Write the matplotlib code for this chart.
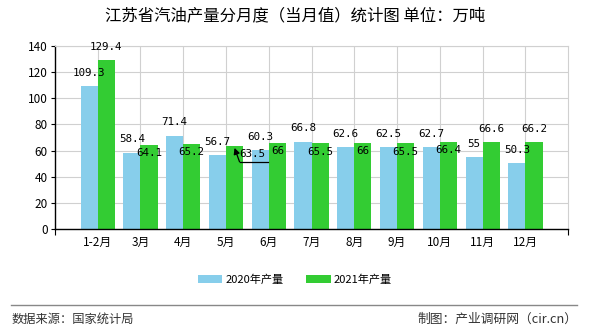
import matplotlib.pyplot as plt
import matplotlib.transforms as mtransforms
import numpy as np

plt.rcParams['font.family'] = ['Noto Sans CJK SC', 'DejaVu Sans']

# Data
months = ['1-2月', '3月', '4月', '5月', '6月', '7月', '8月', '9月', '10月', '11月', '12月']
output_2020 = [109.3, 58.4, 71.4, 56.7, 60.3, 66.8, 62.6, 62.5, 62.7, 55, 50.3]
output_2021 = [129.4, 64.1, 65.2, 63.5, 66, 65.5, 66, 65.5, 66.4, 66.6, 66.2]
# 2021 labels go above the bar only where they don't collide with the 2020 label
above_2021 = [True, False, False, False, False, False, False, False, False, True, True]

blue = '#87CEEB'
green = '#33CC33'

fig = plt.figure(figsize=(5.9, 3.3), dpi=100)
ax = fig.add_axes([0.093, 0.306, 0.870, 0.555])

x = np.arange(1, len(months) + 1)
w = 0.4
ax.bar(x - w / 2, output_2020, w, color=blue, label='2020年产量', zorder=2)
ax.bar(x + w / 2, output_2021, w, color=green, label='2021年产量', zorder=2)

mono = dict(family='DejaVu Sans Mono', fontsize=7.8)
for xi, v in zip(x, output_2020):
    ax.annotate(f'{v:g}', (xi - w / 2, v), xytext=(0, 9.5), textcoords='offset points',
                ha='center', va='center', zorder=3, **mono)
for i, (xi, v) in enumerate(zip(x, output_2021)):
    if above_2021[i]:
        ax.annotate(f'{v:g}', (xi + w / 2, v), xytext=(0, 9.5), textcoords='offset points',
                    ha='center', va='center', zorder=3, **mono)
    elif months[i] == '5月':
        # label pushed to the right, with a leader line back to the bar top
        tip = (xi + w / 2, v - 1.5)
        ax.annotate(f'{v:g}', tip, xytext=(13, -4.5), textcoords='offset points',
                    ha='center', va='center', zorder=3, **mono)
        ax.annotate('', tip, xytext=(3.6, -10), textcoords='offset points', zorder=3,
                    arrowprops=dict(arrowstyle='-|>', color='black', lw=0.9,
                                    mutation_scale=9, shrinkA=0, shrinkB=0))
        under = mtransforms.offset_copy(ax.transData, fig=fig, x=0, y=-10, units='points')
        ax.plot([tip[0] + 0.12, tip[0] + 0.78], [tip[1], tip[1]], color='black', lw=0.9,
                transform=under, zorder=3)
    else:
        ax.annotate(f'{v:g}', (xi + w / 2, v), xytext=(0, -6), textcoords='offset points',
                    ha='center', va='center', zorder=3, **mono)

# Axes
ax.set_xlim(0, 12)
ax.set_ylim(0, 140)
ax.set_yticks(np.arange(0, 141, 20))
ax.set_xticks([0, 12])
ax.set_xticklabels([])
ax.set_xticks(x, minor=True)
ax.set_xticklabels(months, minor=True)
ax.tick_params(axis='x', which='minor', length=0, pad=5, labelsize=8.5)
ax.tick_params(axis='x', which='major', length=4, width=0.8)
ax.tick_params(axis='y', length=3, width=0.8, labelsize=8.5, pad=2)

ax.grid(axis='y', color='#d0d0d0', lw=0.8, zorder=0)
ax.grid(axis='x', which='minor', color='#d0d0d0', lw=0.8, zorder=0)
ax.set_axisbelow(True)
for s in ['top', 'right']:
    ax.spines[s].set_color('#d0d0d0')
for s in ['left', 'bottom']:
    ax.spines[s].set_color('black')
    ax.spines[s].set_linewidth(1)

# Title, legend, footer
fig.text(0.5, 0.952, '江苏省汽油产量分月度（当月值）统计图 单位：万吨',
         ha='center', va='center', fontsize=11.8)
fig.legend(loc='center', bbox_to_anchor=(0.5, 0.152), ncol=2, frameon=False,
           fontsize=8, handlelength=2.2, handleheight=0.8, columnspacing=2.0,
           handletextpad=0.3)
fig.add_artist(plt.Line2D([0.019, 0.978], [0.076, 0.076], color='#888888', lw=1))
fig.text(0.02, 0.012, '数据来源：国家统计局', ha='left', va='bottom', fontsize=8.8, color='#333333')
fig.text(0.978, 0.012, '制图：产业调研网（cir.cn）', ha='right', va='bottom', fontsize=9.2,
         color='#333333')

fig.savefig('out.png', dpi=100)
